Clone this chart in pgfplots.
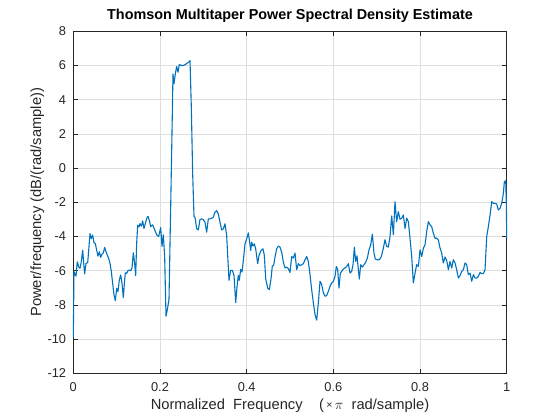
\documentclass[border=0pt]{standalone}
\usepackage{pgfplots}
\pgfplotsset{compat=1.18}
\usepackage{fontspec}
\setmainfont{Liberation Sans}
\definecolor{mblue}{rgb}{0,0.447,0.741}
\definecolor{axgray}{rgb}{0.15,0.15,0.15}
\definecolor{gridgray}{RGB}{222,222,222}
\begin{document}
\begin{tikzpicture}
\path[use as bounding box] (0,0) rectangle (560bp,420bp);
\begin{axis}[
  at={(73.3bp,46.7bp)}, anchor=south west,
  scale only axis, width=433.4bp, height=342bp,
  xmin=0, xmax=1, ymin=-12, ymax=8,
  xtick={0,0.2,0.4,0.6,0.8,1},
  xticklabels={0,0.2,0.4,0.6,0.8,1},
  ytick={-12,-10,-8,-6,-4,-2,0,2,4,6,8},
  yticklabels={-12,-10,-8,-6,-4,-2,0,2,4,6,8},
  tick align=inside, xtick pos=both, ytick pos=both,
  major tick length=4.3bp,
  every tick/.style={axgray, line width=0.6bp},
  axis line style={draw=none},
  grid=major,
  major grid style={gridgray, line width=0.6bp},
  tick label style={font=\fontsize{12.8bp}{14bp}\selectfont, text=axgray, inner sep=0pt},
  xticklabel style={anchor=base, yshift=-18.4bp},
  yticklabel style={anchor=east, xshift=-7bp},
  xlabel={Normalized\ \ Frequency\ \ \ \ (\,\raisebox{0.15ex}{\fontsize{10.5bp}{10bp}\selectfont ×}\,$\pi$\ \ rad/sample)},
  ylabel={Power/frequency (dB/(rad/sample))},
  label style={font=\fontsize{14.7bp}{16bp}\selectfont, text=axgray, inner sep=0pt},
  xlabel style={at={(axis description cs:0.5,-0.1073)}, anchor=base},
  ylabel style={at={(axis description cs:-0.0745,0.5)}, anchor=base, rotate=0},
  title={Thomson Multitaper Power Spectral Density Estimate},
  title style={at={(axis description cs:0.5,1.0184)}, anchor=base, inner sep=0pt,
    font=\bfseries\fontsize{14.4bp}{16bp}\selectfont},
  clip=false,
]
\draw[axgray, line width=0.8bp] (rel axis cs:0,0) rectangle (rel axis cs:1,1);
\addplot[mblue, line width=1.1bp, line join=round] coordinates {
(0.0000,-9.90) (0.0016,-6.06) (0.0047,-6.25) (0.0062,-6.31) (0.0093,-5.48) (0.0124,-5.77)
(0.0155,-5.86) (0.0185,-5.48) (0.0216,-4.80) (0.0247,-5.77) (0.0262,-6.19) (0.0293,-5.57)
(0.0332,-5.53) (0.0362,-4.60) (0.0385,-3.83) (0.0416,-4.12) (0.0447,-3.92) (0.0478,-4.37)
(0.0508,-4.41) (0.0539,-4.80) (0.0570,-5.15) (0.0601,-4.89) (0.0632,-5.22) (0.0662,-5.03)
(0.0693,-4.95) (0.0724,-4.64) (0.0755,-4.89) (0.0785,-5.09) (0.0816,-5.28) (0.0847,-5.57)
(0.0878,-6.06) (0.0908,-6.74) (0.0939,-7.42) (0.0970,-7.75) (0.1001,-7.03) (0.1031,-7.22)
(0.1062,-6.54) (0.1093,-6.25) (0.1124,-6.74) (0.1154,-7.57) (0.1185,-6.54) (0.1200,-6.12)
(0.1231,-6.16) (0.1262,-6.00) (0.1293,-5.96) (0.1324,-6.00) (0.1354,-5.86) (0.1385,-4.95)
(0.1416,-5.57) (0.1439,-6.29) (0.1462,-4.41) (0.1485,-3.34) (0.1516,-3.44) (0.1539,-3.24)
(0.1570,-3.40) (0.1601,-3.09) (0.1631,-3.53) (0.1662,-3.24) (0.1693,-2.95) (0.1724,-2.82)
(0.1754,-3.05) (0.1785,-3.42) (0.1831,-3.32) (0.1877,-3.61) (0.1924,-3.90) (0.1970,-4.00)
(0.2016,-3.48) (0.2047,-4.58) (0.2077,-3.90) (0.2108,-5.17) (0.2139,-8.66) (0.2170,-8.27)
(0.2208,-7.69) (0.2247,-2.25) (0.2277,2.02) (0.2300,5.51) (0.2324,4.93) (0.2354,5.51)
(0.2385,5.94) (0.2416,5.61) (0.2447,6.06) (0.2493,6.00) (0.2539,6.00) (0.2585,6.06)
(0.2631,6.14) (0.2662,6.19) (0.2693,6.29) (0.2723,3.57) (0.2754,-0.31) (0.2785,-2.83)
(0.2808,-2.87) (0.2847,-3.55) (0.2885,-3.61) (0.2923,-3.01) (0.2962,-2.97) (0.3000,-3.01)
(0.3039,-3.17) (0.3077,-3.75) (0.3116,-2.97) (0.3154,-2.97) (0.3193,-2.93) (0.3231,-2.87)
(0.3269,-2.58) (0.3308,-2.49) (0.3346,-2.68) (0.3385,-3.17) (0.3423,-3.61) (0.3462,-3.55)
(0.3500,-3.26) (0.3539,-3.94) (0.3562,-5.11) (0.3593,-6.56) (0.3631,-5.98) (0.3670,-5.98)
(0.3708,-6.27) (0.3747,-7.86) (0.3777,-6.95) (0.3808,-6.27) (0.3831,-6.56) (0.3862,-5.92)
(0.3893,-6.08) (0.3923,-5.40) (0.3962,-4.43) (0.4000,-4.14) (0.4039,-3.79) (0.4069,-4.33)
(0.4093,-4.82) (0.4116,-4.33) (0.4146,-4.56) (0.4177,-4.43) (0.4208,-4.72) (0.4254,-5.59)
(0.4285,-5.11) (0.4331,-4.82) (0.4377,-4.72) (0.4408,-5.11) (0.4439,-6.47) (0.4485,-7.01)
(0.4523,-7.11) (0.4562,-6.47) (0.4592,-5.73) (0.4623,-5.69) (0.4654,-5.20) (0.4692,-4.72)
(0.4731,-4.56) (0.4769,-4.62) (0.4808,-4.91) (0.4846,-5.50) (0.4885,-5.84) (0.4923,-5.79)
(0.4962,-5.88) (0.5000,-6.10) (0.5039,-5.17) (0.5077,-5.26) (0.5116,-4.97) (0.5154,-5.94)
(0.5193,-5.59) (0.5231,-5.71) (0.5270,-5.65) (0.5308,-5.59) (0.5346,-5.36) (0.5385,-5.17)
(0.5423,-5.46) (0.5462,-6.23) (0.5500,-7.11) (0.5539,-7.88) (0.5577,-8.56) (0.5616,-8.89)
(0.5654,-7.88) (0.5693,-6.62) (0.5731,-6.81) (0.5770,-7.30) (0.5808,-7.49) (0.5846,-7.46)
(0.5885,-7.20) (0.5923,-6.91) (0.5962,-6.72) (0.6000,-6.62) (0.6039,-6.33) (0.6069,-5.75)
(0.6100,-5.94) (0.6131,-7.01) (0.6162,-6.14) (0.6192,-6.04) (0.6231,-5.90) (0.6269,-5.84)
(0.6308,-5.75) (0.6346,-5.59) (0.6385,-6.14) (0.6423,-6.04) (0.6454,-5.65) (0.6485,-4.62)
(0.6515,-5.46) (0.6546,-5.13) (0.6577,-5.94) (0.6600,-6.49) (0.6631,-5.65) (0.6669,-5.79)
(0.6708,-5.65) (0.6746,-5.51) (0.6785,-5.26) (0.6823,-4.78) (0.6862,-4.49) (0.6900,-3.86)
(0.6938,-4.97) (0.6969,-5.32) (0.7015,-5.36) (0.7062,-5.36) (0.7108,-5.17) (0.7154,-4.68)
(0.7192,-4.19) (0.7231,-4.58) (0.7269,-4.62) (0.7308,-4.00) (0.7346,-2.80) (0.7385,-3.90)
(0.7423,-1.96) (0.7461,-3.13) (0.7500,-2.55) (0.7538,-2.99) (0.7577,-2.93) (0.7615,-2.74)
(0.7654,-3.53) (0.7692,-2.93) (0.7731,-3.13) (0.7769,-4.10) (0.7808,-5.17) (0.7846,-6.72)
(0.7885,-6.14) (0.7923,-5.65) (0.7962,-5.75) (0.8000,-4.78) (0.8039,-5.17) (0.8077,-4.68)
(0.8116,-4.49) (0.8154,-3.71) (0.8193,-3.13) (0.8231,-3.32) (0.8269,-3.42) (0.8308,-3.81)
(0.8346,-4.10) (0.8385,-4.10) (0.8423,-4.20) (0.8462,-4.68) (0.8500,-4.97) (0.8538,-5.55)
(0.8577,-5.20) (0.8615,-5.40) (0.8654,-5.94) (0.8692,-5.46) (0.8731,-5.84) (0.8769,-5.36)
(0.8808,-5.55) (0.8846,-5.94) (0.8885,-6.43) (0.8923,-6.29) (0.8962,-6.04) (0.9000,-5.94)
(0.9039,-5.55) (0.9077,-5.65) (0.9115,-6.23) (0.9154,-6.14) (0.9192,-6.62) (0.9231,-6.23)
(0.9269,-6.43) (0.9308,-6.43) (0.9346,-6.33) (0.9385,-6.10) (0.9423,-6.17) (0.9462,-6.17)
(0.9500,-5.94) (0.9539,-4.00) (0.9577,-3.42) (0.9616,-2.74) (0.9654,-1.96) (0.9693,-2.06)
(0.9731,-2.06) (0.9769,-2.10) (0.9808,-2.45) (0.9846,-2.35) (0.9885,-2.06) (0.9923,-1.48)
(0.9946,-0.80) (0.9977,-0.74) (0.9992,-2.06) (1.0000,-4.10)
};
\end{axis}
\end{tikzpicture}
\end{document}
